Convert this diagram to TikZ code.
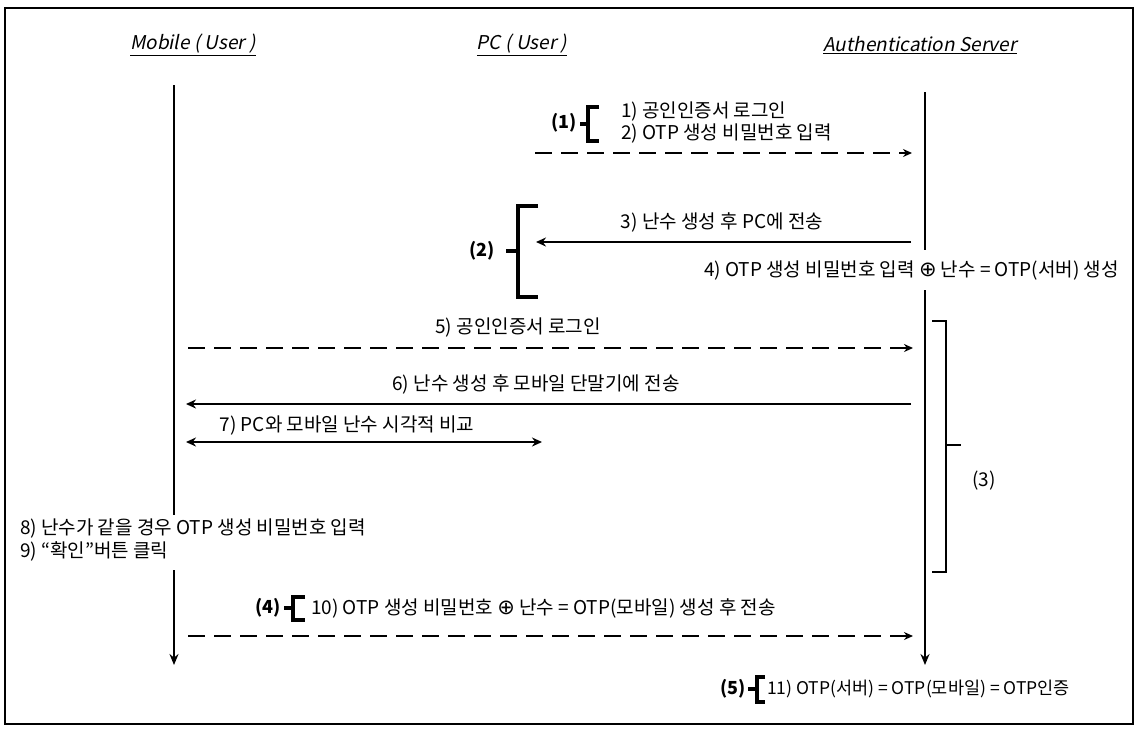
\documentclass[tikz,border=0pt]{standalone}
\usepackage{fontspec}
\setmainfont{Noto Sans CJK KR}
\newfontfamily\titlefont{Noto Sans CJK KR}[FakeSlant=0.2]
\newfontfamily\symf{DejaVu Sans}
\usetikzlibrary{arrows.meta}
\newcommand{\xorsym}{{\symf\fontsize{21}{22}\selectfont ⊕}}
\begin{document}
\begin{tikzpicture}[x=1pt,y=-1pt,
  every node/.style={inner sep=0pt, outer sep=0pt},
  lbl/.style={font=\fontsize{19}{22}\selectfont, anchor=center},
  lblw/.style={font=\fontsize{19}{22}\selectfont, anchor=west},
  num/.style={font=\fontsize{18}{22}\selectfont\bfseries, anchor=center},
  ttl/.style={font=\fontsize{19}{22}\selectfont\titlefont, anchor=center},
  life/.style={line width=1.8pt},
  msg/.style={line width=2.4pt, -{Stealth[length=10pt,width=9pt]}},
  dmsg/.style={line width=2.8pt, dash pattern=on 17pt off 9pt, -{Stealth[length=9pt,width=8pt]}},
  brk/.style={line width=3.4pt, line cap=butt, line join=miter}
]
\useasboundingbox (0,0) rectangle (1138,729);
\draw[line width=2pt] (5,8) rectangle (1133,724);

% titles
\node[ttl] (tm) at (193,45) {\underline{Mobile ( User )}};
\node[ttl] (tp) at (522,45) {\underline{PC ( User )}};
\node[ttl] (ts) at (920,45) {\underline{Authentication Server}};

% lifelines
\coordinate (m0) at (174,85);  \coordinate (m1) at (174,515);
\coordinate (m2) at (174,570); \coordinate (m3) at (174,665);
\coordinate (s0) at (925,92);  \coordinate (s1) at (925,250);
\coordinate (s2) at (925,290); \coordinate (s3) at (925,665);
\draw[life] (m0) -- (m1);
\draw[life, -{Stealth[length=11pt,width=9pt]}] (m2) -- (m3);
\draw[life] (s0) -- (s1);
\draw[life, -{Stealth[length=11pt,width=9pt]}] (s2) -- (s3);

% (1)
\coordinate (a1s) at (535,153); \coordinate (a1e) at (912,153);
\draw[dmsg] (a1s) -- (a1e);
\node[num] (n1) at (564,123) {(1)};
\draw[brk] (599,107) -- (588,107) -- (588,141) -- (599,141);
\draw[brk] (588,124) -- (580,124);
\node[lblw] (t1) at (621,112) {1) 공인인증서 로그인};
\node[lblw] (t2) at (621,134) {2) OTP 생성 비밀번호 입력};

% (2)
\coordinate (a3s) at (911,242); \coordinate (a3e) at (536,242);
\draw[msg] (a3s) -- (a3e);
\node[lbl] (t3) at (722,222) {3) 난수 생성 후 PC에 전송};
\node[lblw] (t4) at (704,270) {4) OTP 생성 비밀번호 입력 \xorsym{} 난수 = OTP(서버) 생성};
\draw[brk] (538,206) -- (518,206) -- (518,297) -- (538,297);
\draw[brk] (518,251) -- (506,251);
\node[num] (n2) at (482,251) {(2)};

% 5, 6, 7
\coordinate (a5s) at (188,348); \coordinate (a5e) at (913,348);
\draw[dmsg] (a5s) -- (a5e);
\node[lbl] (t5) at (518,327) {5) 공인인증서 로그인};
\coordinate (a6s) at (911,404); \coordinate (a6e) at (186,404);
\draw[msg] (a6s) -- (a6e);
\node[lbl] (t6) at (536,384) {6) 난수 생성 후 모바일 단말기에 전송};
\coordinate (a7s) at (186,442); \coordinate (a7e) at (542,442);
\draw[line width=2.4pt, {Stealth[length=10pt,width=9pt]}-{Stealth[length=10pt,width=9pt]}] (a7s) -- (a7e);
\node[lbl] (t7) at (347,425) {7) PC와 모바일 난수 시각적 비교};

% (3)
\draw[brk, line width=2.8pt] (932,321) -- (946,321) -- (946,572) -- (932,572);
\draw[brk, line width=2.8pt] (946,445) -- (961,445);
\node[lbl] (n3) at (984,481) {(3)};

% 8, 9
\node[lblw] (t8) at (20,528) {8) 난수가 같을 경우 OTP 생성 비밀번호 입력};
\node[lblw] (t9) at (20,551) {9) “확인”버튼 클릭};

% (4)
\node[num] (n4) at (268,608) {(4)};
\draw[brk] (305,597) -- (293,597) -- (293,620) -- (305,620);
\draw[brk] (293,608) -- (284,608);
\node[lblw] (t10) at (311,608) {10) OTP 생성 비밀번호 \xorsym{} 난수 = OTP(모바일) 생성 후 전송};
\coordinate (a10s) at (188,636); \coordinate (a10e) at (913,636);
\draw[dmsg] (a10s) -- (a10e);

% (5)
\node[num] (n5) at (733,689) {(5)};
\draw[brk] (765,677) -- (757,677) -- (757,702) -- (765,702);
\draw[brk] (757,689) -- (748,689);
\node[lblw, font=\fontsize{17.5}{22}\selectfont] (t11) at (767,689) {11) OTP(서버) = OTP(모바일) = OTP인증};
\end{tikzpicture}
\end{document}
